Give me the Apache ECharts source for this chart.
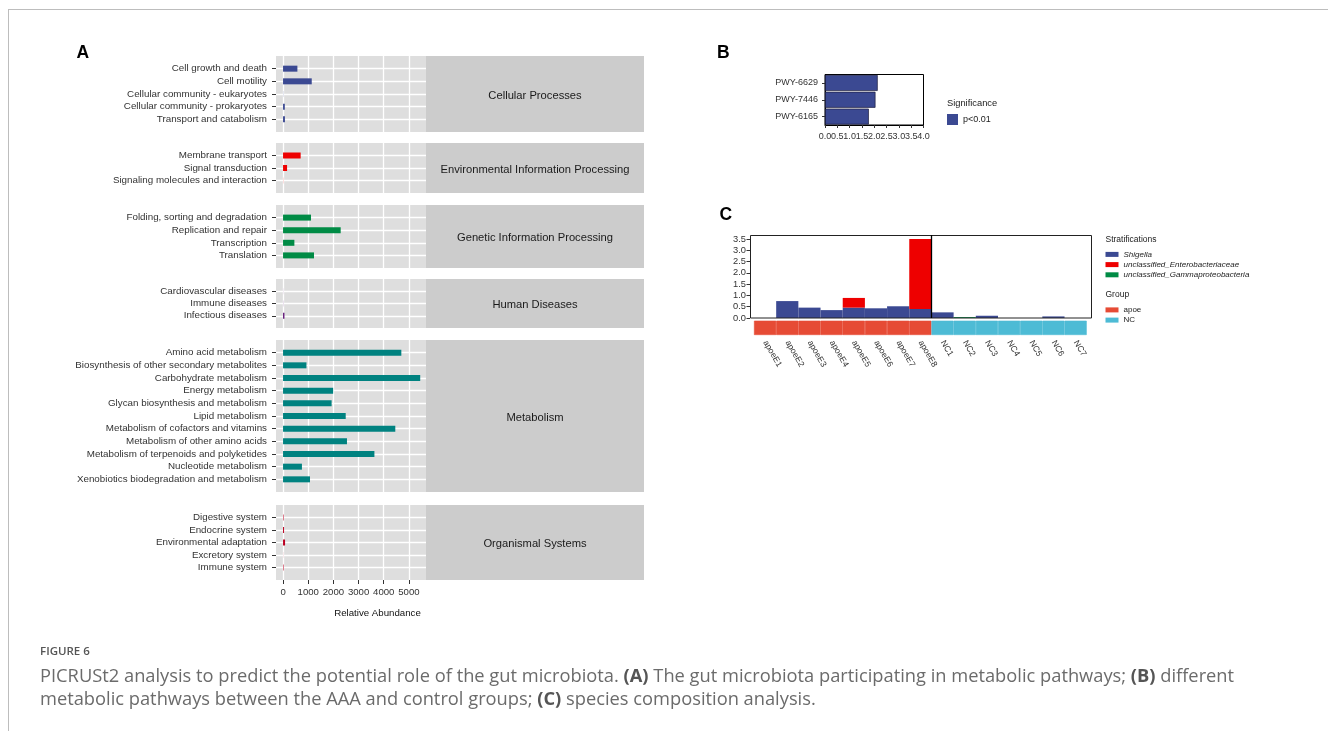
<!DOCTYPE html>
<html><head><meta charset="utf-8">
<script src="https://cdn.jsdelivr.net/npm/echarts@6/dist/echarts.min.js"></script>
<style>html,body{margin:0;padding:0;background:#fff}#c{width:1328px;height:731px}</style>
</head><body><div id="c"></div>
<script>
// ---------- Panel A data ----------
const aPanelNames = ['Cellular Processes','Environmental Information Processing','Genetic Information Processing','Human Diseases','Metabolism','Organismal Systems'];
const aCellular = ['Cell growth and death','Cell motility','Cellular community - eukaryotes','Cellular community - prokaryotes','Transport and catabolism'];
const aCellularVals = [570, 1140, 5, 70, 75];
const aEnv = ['Membrane transport','Signal transduction','Signaling molecules and interaction'];
const aEnvVals = [700, 160, 5];
const aGen = ['Folding, sorting and degradation','Replication and repair','Transcription','Translation'];
const aGenVals = [1110, 2290, 450, 1230];
const aHum = ['Cardiovascular diseases','Immune diseases','Infectious diseases'];
const aHumVals = [3, 5, 55];
const aMet = ['Amino acid metabolism','Biosynthesis of other secondary metabolites','Carbohydrate metabolism','Energy metabolism','Glycan biosynthesis and metabolism','Lipid metabolism','Metabolism of cofactors and vitamins','Metabolism of other amino acids','Metabolism of terpenoids and polyketides','Nucleotide metabolism','Xenobiotics biodegradation and metabolism'];
const aMetVals = [4700, 930, 5450, 1990, 1930, 2490, 4460, 2540, 3630, 750, 1070];
const aOrg = ['Digestive system','Endocrine system','Environmental adaptation','Excretory system','Immune system'];
const aOrgVals = [20, 40, 80, 3, 20];
const aTicks = [0, 1000, 2000, 3000, 4000, 5000];
const aColors = ['#3B4992','#EE0000','#008B45','#631879','#008280','#BB0021'];

// ---------- Panel B data ----------
const bPathways = ['PWY-6629','PWY-7446','PWY-6165'];
const bVals = [2.14, 2.05, 1.78];

// ---------- Panel C data ----------
const cSamples = ['apoeE1','apoeE2','apoeE3','apoeE4','apoeE5','apoeE6','apoeE7','apoeE8','NC1','NC2','NC3','NC4','NC5','NC6','NC7'];
const cGroup = ['apoe','apoe','apoe','apoe','apoe','apoe','apoe','apoe','NC','NC','NC','NC','NC','NC','NC'];
const cShigella = [0, 0.75, 0.46, 0.35, 0.46, 0.43, 0.52, 0.40, 0.25, 0, 0.10, 0, 0, 0.07, 0];
const cEntero   = [0, 0, 0, 0, 0.43, 0, 0, 3.10, 0, 0, 0, 0, 0, 0, 0];
const cGamma    = [0, 0, 0, 0, 0, 0, 0, 0, 0, 0.04, 0, 0, 0, 0, 0];
const cTicks = [0, 0.5, 1.0, 1.5, 2.0, 2.5, 3.0, 3.5];

const FONT = '"Liberation Sans", Arial, Helvetica, sans-serif';
const CAPFONT = '"Open Sans", "Noto Sans", sans-serif';

// ---------- layout ----------
const aCats = [aCellular, aEnv, aGen, aHum, aMet, aOrg];
const aVals = [aCellularVals, aEnvVals, aGenVals, aHumVals, aMetVals, aOrgVals];
const aTops = [56, 143, 205, 279, 340, 505];
const aHeights = [76, 50, 63, 49, 152, 75];
const aLeft = 276, aWidth = 150, stripW = 218;

const grids = [], xAxes = [], yAxes = [], series = [], graphics = [];

aCats.forEach((cats, i) => {
  const n = cats.length;
  const padded = [''].concat(cats, ['']);
  const inner = (idx) => idx > 0 && idx < n + 1;
  const last = i === aCats.length - 1;
  grids.push({left: aLeft, top: aTops[i], width: aWidth, height: aHeights[i], show: true, backgroundColor: '#dedede', borderWidth: 0});
  xAxes.push({
    type: 'value', gridIndex: i, min: -280, max: 5680,
    axisLine: {show: false, onZero: false},
    axisTick: {show: last, customValues: aTicks, length: 4, lineStyle: {color: '#333'}},
    axisLabel: {show: last, customValues: aTicks, fontSize: 9.6, color: '#333', margin: 7, fontFamily: FONT, formatter: v => String(v)},
    splitLine: {show: true, lineStyle: {color: '#ffffff', width: 1.3}},
    name: last ? 'Relative Abundance' : '', nameLocation: 'middle', nameGap: 28,
    nameTextStyle: {fontSize: 9.7, color: '#111', fontFamily: FONT, padding: [0, 0, 0, 53]}
  });
  yAxes.push({
    type: 'category', gridIndex: i, data: padded, inverse: true, boundaryGap: false,
    axisLine: {show: false, onZero: false},
    axisTick: {show: true, length: 4, interval: inner, lineStyle: {color: '#333'}},
    axisLabel: {interval: inner, fontSize: 9.8, color: '#333', margin: 9, fontFamily: FONT},
    splitLine: {show: true, interval: inner, lineStyle: {color: '#ffffff', width: 1.3}}
  });
  series.push({
    type: 'bar', xAxisIndex: i, yAxisIndex: i, barWidth: 6,
    data: [null].concat(aVals[i], [null]),
    itemStyle: {color: aColors[i]}, silent: true
  });
  graphics.push({id: 'strip' + i, type: 'rect', shape: {x: aLeft + aWidth, y: aTops[i], width: stripW, height: aHeights[i]}, style: {fill: '#cccccc'}, silent: true});
  graphics.push({id: 'stript' + i, type: 'text', x: aLeft + aWidth + stripW / 2, y: aTops[i] + aHeights[i] / 2 + 1.5,
    style: {text: aPanelNames[i], fontSize: 11.2, fontFamily: FONT, fill: '#1a1a1a', align: 'center', verticalAlign: 'middle'}, silent: true});
});

// Panel B (grid 6)
grids.push({left: 825, top: 74.5, width: 98.5, height: 50.5, show: true, backgroundColor: '#fff', borderColor: '#000', borderWidth: 1});
xAxes.push({type: 'value', gridIndex: 6, min: 0, max: 4, interval: 0.5,
  axisLine: {show: true, onZero: false, lineStyle: {color: '#000'}},
  axisTick: {show: true, length: 3, lineStyle: {color: '#333'}},
  axisLabel: {fontSize: 9, color: '#333', margin: 7, fontFamily: FONT, formatter: v => v.toFixed(1)},
  splitLine: {show: false}});
yAxes.push({type: 'category', gridIndex: 6, data: bPathways, inverse: true,
  axisLine: {show: true, onZero: false, lineStyle: {color: '#000'}},
  axisTick: {show: true, alignWithLabel: true, length: 3, lineStyle: {color: '#333'}},
  axisLabel: {fontSize: 9, color: '#333', margin: 7, fontFamily: FONT}});
series.push({type: 'bar', name: 'p<0.01', xAxisIndex: 6, yAxisIndex: 6, data: bVals, barCategoryGap: '5%',
  itemStyle: {color: '#3B4992', borderColor: '#1c1c3c', borderWidth: 0.7}, silent: true});

// Panel C main (grid 7)
grids.push({left: 754, top: 235, width: 332.7, height: 83, show: false});
xAxes.push({type: 'category', gridIndex: 7, data: cSamples, boundaryGap: true,
  axisLine: {show: false, onZero: false}, axisTick: {show: false}, axisLabel: {show: false}});
yAxes.push({type: 'value', gridIndex: 7, min: 0, max: 3.68, offset: 4,
  axisLine: {show: false, onZero: false},
  axisTick: {show: true, customValues: cTicks, length: 3.5, lineStyle: {color: '#333'}},
  axisLabel: {customValues: cTicks, fontSize: 9.3, color: '#333', margin: 4, fontFamily: FONT, formatter: v => v.toFixed(1)},
  splitLine: {show: false}});
const cStrat = [['Shigella', cShigella, '#3B4992'], ['unclassified_Enterobacteriaceae', cEntero, '#EE0000'], ['unclassified_Gammaproteobacteria', cGamma, '#008B45']];
cStrat.forEach(s => series.push({type: 'bar', name: s[0], stack: 'c', xAxisIndex: 7, yAxisIndex: 7, data: s[1],
  barCategoryGap: '0%', itemStyle: {color: s[2], borderWidth: 0}, silent: true}));

// Panel C group bar (grid 8)
grids.push({left: 754, top: 320.7, width: 332.7, height: 14.3, show: false});
xAxes.push({type: 'category', gridIndex: 8, data: cSamples, boundaryGap: true,
  axisLine: {show: false, onZero: false}, axisTick: {show: false},
  axisLabel: {interval: 0, rotate: -60, fontSize: 8.5, color: '#333', margin: 6, fontFamily: FONT}});
yAxes.push({type: 'value', gridIndex: 8, min: 0, max: 1, show: false});
[['apoe', '#E64B35'], ['NC', '#4DBBD5']].forEach(g => series.push({type: 'bar', name: g[0], xAxisIndex: 8, yAxisIndex: 8,
  data: cGroup.map(v => v === g[0] ? 1 : null), barGap: '-100%', barCategoryGap: '0%',
  itemStyle: {color: g[1], borderColor: g[1], borderWidth: 0.6}, silent: true}));

// decorations / texts
graphics.push(
  {id: 'frameTop', type: 'line', shape: {x1: 8, y1: 9.5, x2: 1328, y2: 9.5}, style: {stroke: '#bdbdbd', lineWidth: 1}, silent: true},
  {id: 'frameLeft', type: 'line', shape: {x1: 8.5, y1: 9, x2: 8.5, y2: 731}, style: {stroke: '#bdbdbd', lineWidth: 1}, silent: true},
  {id: 'letA', type: 'text', x: 76.5, y: 53, style: {text: 'A', fontSize: 17.5, fontWeight: 'bold', fontFamily: FONT, fill: '#000', verticalAlign: 'middle'}},
  {id: 'letB', type: 'text', x: 717, y: 53.5, style: {text: 'B', fontSize: 17.5, fontWeight: 'bold', fontFamily: FONT, fill: '#000', verticalAlign: 'middle'}},
  {id: 'letC', type: 'text', x: 719.5, y: 215, style: {text: 'C', fontSize: 17.5, fontWeight: 'bold', fontFamily: FONT, fill: '#000', verticalAlign: 'middle'}},
  {id: 'sigT', type: 'text', x: 947, y: 103, style: {text: 'Significance', fontSize: 9.3, fontFamily: FONT, fill: '#222', verticalAlign: 'middle'}},
  {id: 'strT', type: 'text', x: 1105.5, y: 240, style: {text: 'Stratifications', fontSize: 8.5, fontFamily: FONT, fill: '#222', verticalAlign: 'middle'}},
  {id: 'grpT', type: 'text', x: 1105.5, y: 295, style: {text: 'Group', fontSize: 8.5, fontFamily: FONT, fill: '#222', verticalAlign: 'middle'}},
  {id: 'cbox', type: 'rect', shape: {x: 750.5, y: 235.5, width: 341, height: 82.5}, style: {fill: 'none', stroke: '#222', lineWidth: 1}, silent: true, z: 10},
  {id: 'fig', type: 'text', x: 40, y: 652, style: {text: 'FIGURE 6', fontSize: 11.5, fontFamily: CAPFONT, fontWeight: 600, fill: '#555', verticalAlign: 'middle'}},
  {id: 'cap', type: 'text', x: 40, y: 665.5, style: {
    text: '{n|PICRUSt2 analysis to predict the potential role of the gut microbiota. }{b|(A)}{n| The gut microbiota participating in metabolic pathways; }{b|(B)}{n| different}\n{n|metabolic pathways between the AAA and control groups; }{b|(C)}{n| species composition analysis.}',
    verticalAlign: 'top',
    rich: {
      n: {fontSize: 18.3, fontFamily: CAPFONT, fill: '#6b6b6b', color: '#6b6b6b', lineHeight: 23},
      b: {fontSize: 18.3, fontFamily: CAPFONT, fontWeight: 'bold', fill: '#555', color: '#555', lineHeight: 23}
    }}}
);

const legendText = {fontFamily: FONT, color: '#222'};
const option = {
  animation: false,
  backgroundColor: '#ffffff',
  textStyle: {fontFamily: FONT},
  grid: grids, xAxis: xAxes, yAxis: yAxes, series: series,
  legend: [
    {data: ['p<0.01'], left: 947, top: 114, icon: 'rect', itemWidth: 11, itemHeight: 11, padding: 0, selectedMode: false,
      itemStyle: {borderWidth: 0}, textStyle: Object.assign({fontSize: 9}, legendText)},
    {data: ['Shigella', 'unclassified_Enterobacteriaceae', 'unclassified_Gammaproteobacteria'], orient: 'vertical', left: 1105.5, top: 249.3,
      icon: 'rect', itemWidth: 13, itemHeight: 5, itemGap: 0, padding: 0, selectedMode: false, itemStyle: {borderWidth: 0},
      textStyle: Object.assign({fontSize: 8, fontStyle: 'italic', lineHeight: 10.2}, legendText)},
    {data: ['apoe', 'NC'], orient: 'vertical', left: 1105.5, top: 304.8,
      icon: 'rect', itemWidth: 13, itemHeight: 5, itemGap: 0, padding: 0, selectedMode: false, itemStyle: {borderWidth: 0},
      textStyle: Object.assign({fontSize: 8, lineHeight: 10.2}, legendText)}
  ],
  graphic: graphics
};

const chart = echarts.init(document.getElementById('c'), null, {renderer: 'canvas'});
chart.setOption(option);
// group separator between last apoe sample and first NC sample, from the axis scale
const xa = chart.convertToPixel({xAxisIndex: 7}, cSamples[7]);
const xb = chart.convertToPixel({xAxisIndex: 7}, cSamples[8]);
const sepX = Math.round((xa + xb) / 2) + 0.5;
chart.setOption({graphic: graphics.concat([{id: 'sep', type: 'line', shape: {x1: sepX, y1: 235, x2: sepX, y2: 318}, style: {stroke: '#000', lineWidth: 1.3}, silent: true, z: 10}])});
</script>
</body></html>
